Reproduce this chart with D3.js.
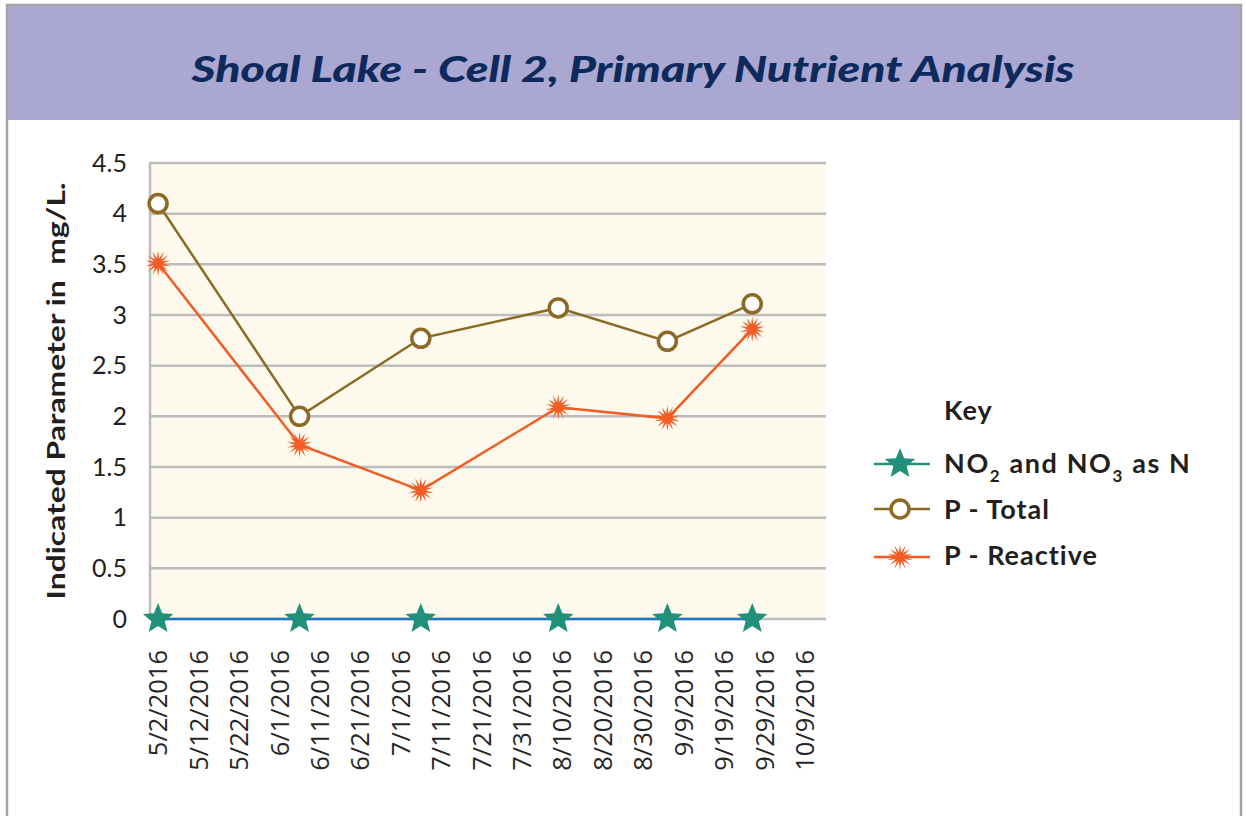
<!DOCTYPE html>
<html>
<head>
<meta charset="utf-8">
<script src="https://cdn.jsdelivr.net/npm/d3@7"></script>
<style>
  body { margin: 0; background: #fff; }
  svg text { white-space: pre; }
</style>
</head>
<body>
<div class="chart"></div>
<script>
// sample dates and values
const sampleDates = ["2016-05-02", "2016-06-06", "2016-07-06", "2016-08-09", "2016-09-05", "2016-09-26"];
const no2no3 = [0, 0, 0, 0, 0, 0];
const pTotal = [4.1, 2.0, 2.77, 3.07, 2.74, 3.11];
const pReactive = [3.51, 1.72, 1.27, 2.09, 1.98, 2.86];
const yTicks = [0, 0.5, 1, 1.5, 2, 2.5, 3, 3.5, 4, 4.5];
const xTickStart = "2016-05-02";
const xTickCount = 17; // every 10 days to 10/9/2016

const W = 1246, H = 816;
const margin = {top: 163, right: 421, bottom: 197, left: 150};
const width = W - margin.left - margin.right;
const height = H - margin.top - margin.bottom;

const parse = d3.timeParse("%Y-%m-%d");
const fmt = d => (d.getMonth() + 1) + "/" + d.getDate() + "/" + d.getFullYear();

const svg = d3.select(".chart").append("svg")
    .attr("width", W)
    .attr("height", H);

// frame + title band
svg.append("rect")
    .attr("x", 7).attr("y", 5).attr("width", 1234).attr("height", 830)
    .attr("fill", "#fff").attr("stroke", "#a3a3a6").attr("stroke-width", 2.5);
svg.append("rect")
    .attr("x", 8).attr("y", 6).attr("width", 1232).attr("height", 114)
    .attr("fill", "#aaa8d3");
svg.append("text")
    .attr("x", 633).attr("y", 82)
    .attr("text-anchor", "middle")
    .attr("font-family", "Lato")
    .attr("font-weight", "900")
    .attr("font-style", "italic")
    .attr("font-size", 36)
    .attr("textLength", 883)
    .attr("lengthAdjust", "spacingAndGlyphs")
    .attr("fill", "#0e2a5c")
    .text("Shoal Lake - Cell 2, Primary Nutrient Analysis");

const g = svg.append("g")
    .attr("transform", "translate(" + margin.left + "," + margin.top + ")");

const xScale = d3.scaleTime()
    .domain([parse("2016-04-30"), parse("2016-10-14")])
    .range([0, width]);
const yScale = d3.scaleLinear()
    .domain([0, 4.5])
    .range([height, 0]);

g.append("rect")
    .attr("width", width).attr("height", height)
    .attr("fill", "#fdf9ec");

// gridlines
g.selectAll(".grid")
    .data(yTicks)
    .enter()
    .append("line")
    .attr("x1", 0).attr("x2", width + 1)
    .attr("y1", d => yScale(d)).attr("y2", d => yScale(d))
    .attr("stroke", "#bdbdc0").attr("stroke-width", 2.5);
g.append("line")
    .attr("x1", 0).attr("x2", 0)
    .attr("y1", -1).attr("y2", height)
    .attr("stroke", "#bdbdc0").attr("stroke-width", 2.5);

// y axis labels
g.selectAll(".ylab")
    .data(yTicks)
    .enter()
    .append("text")
    .attr("x", -23)
    .attr("y", d => yScale(d))
    .attr("dy", "0.35em")
    .attr("text-anchor", "end")
    .attr("font-family", "Lato")
    .attr("font-size", 25)
    .attr("fill", "#231f20")
    .text(d => d);

svg.append("text")
    .attr("transform", "translate(65,391) rotate(-90)")
    .attr("text-anchor", "middle")
    .attr("font-family", "Lato")
    .attr("font-weight", "bold")
    .attr("font-size", 24)
    .attr("textLength", 417)
    .attr("lengthAdjust", "spacingAndGlyphs")
    .attr("fill", "#231f20")
    .text("Indicated Parameter in  mg/L.");

// x axis labels, every 10 days
const xTicks = d3.range(xTickCount).map(i => d3.timeDay.offset(parse(xTickStart), i * 10));
g.selectAll(".xlab")
    .data(xTicks)
    .enter()
    .append("text")
    .attr("transform", d => "translate(" + xScale(d) + "," + (height + 31) + ") rotate(-90)")
    .attr("dy", "0.36em")
    .attr("text-anchor", "end")
    .attr("font-family", "Open Sans")
    .attr("font-size", 25.5)
    .attr("fill", "#262626")
    .text(fmt);

// marker shapes
function starPath(n, r1, r2) {
    const pts = [];
    for (let i = 0; i < n * 2; i++) {
        const r = i % 2 === 0 ? r1 : r2;
        const a = Math.PI * i / n - Math.PI / 2;
        pts.push([r * Math.cos(a), r * Math.sin(a)]);
    }
    return "M" + pts.map(p => p[0].toFixed(2) + "," + p[1].toFixed(2)).join("L") + "Z";
}
const star5 = starPath(5, 16, 7);
const burst = starPath(14, 13, 5);

const series = [
    {name: "no2", values: no2no3, line: "#1f77c0", marker: "star", color: "#21907a"},
    {name: "ptotal", values: pTotal, line: "#8a6a25", marker: "circle", color: "#8a6a25"},
    {name: "preactive", values: pReactive, line: "#f15d24", marker: "burst", color: "#f15d24"}
];

const line = d3.line()
    .x(d => xScale(d.date))
    .y(d => yScale(d.value));

function addMarker(sel, s) {
    if (s.marker === "circle") {
        sel.append("circle").attr("r", 9)
            .attr("fill", "#fff").attr("stroke", s.color).attr("stroke-width", 3.5);
    } else if (s.marker === "star") {
        sel.append("path").attr("d", star5).attr("fill", s.color);
    } else {
        sel.append("path").attr("d", burst).attr("fill", s.color);
    }
}

series.forEach(function(s) {
    const pts = s.values.map((v, i) => ({date: parse(sampleDates[i]), value: v}));
    g.append("path")
        .datum(pts)
        .attr("fill", "none")
        .attr("stroke", s.line)
        .attr("stroke-width", 2.5)
        .attr("d", line);
    g.selectAll(".m-" + s.name)
        .data(pts)
        .enter()
        .append("g")
        .attr("transform", d => "translate(" + xScale(d.date) + "," + yScale(d.value) + ")")
        .each(function() { addMarker(d3.select(this), s); });
});

// legend
const legend = svg.append("g")
    .attr("font-family", "Lato").attr("font-weight", "bold").attr("font-size", 27)
    .attr("fill", "#231f20");
legend.append("text")
    .attr("x", 944).attr("y", 420)
    .attr("letter-spacing", 1)
    .text("Key");

const legendRows = [
    {y: 464, s: series[0], color: "#21907a"},
    {y: 509, s: series[1], color: "#8a6a25"},
    {y: 557, s: series[2], color: "#f15d24"}
];
legendRows.forEach(function(r) {
    legend.append("line")
        .attr("x1", 874).attr("x2", 930)
        .attr("y1", r.y).attr("y2", r.y)
        .attr("stroke", r.color).attr("stroke-width", 2.5);
    const m = legend.append("g").attr("transform", "translate(900," + r.y + ")");
    addMarker(m, r.s);
});

const t1 = legend.append("text")
    .attr("x", 944).attr("y", 473)
    .attr("letter-spacing", 1.6);
t1.append("tspan").text("NO");
t1.append("tspan").attr("dy", 9).attr("font-size", 17).text("2");
t1.append("tspan").attr("dy", -9).text(" and NO");
t1.append("tspan").attr("dy", 9).attr("font-size", 17).text("3");
t1.append("tspan").attr("dy", -9).text(" as N");

legend.append("text")
    .attr("x", 944).attr("y", 519)
    .attr("letter-spacing", 1)
    .text("P - Total");
legend.append("text")
    .attr("x", 944).attr("y", 565)
    .attr("letter-spacing", 1)
    .text("P - Reactive");
</script>
</body>
</html>
